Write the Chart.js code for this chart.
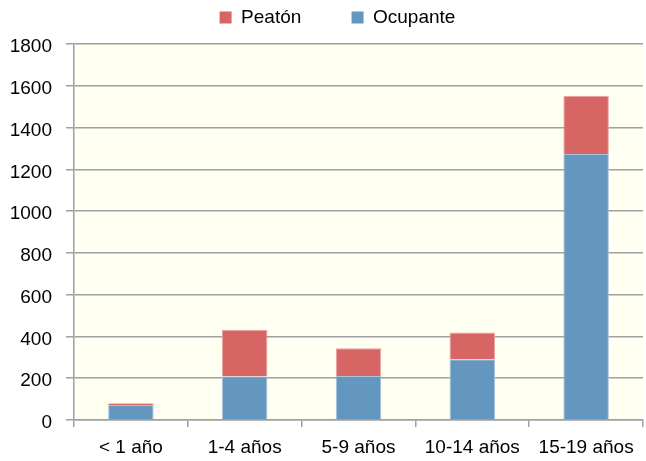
<!DOCTYPE html>
<html>
<head>
<meta charset="utf-8">
<script src="https://cdn.jsdelivr.net/npm/chart.js@4.4.0/dist/chart.umd.min.js"></script>
<style>
  html, body { margin: 0; padding: 0; background: #fff; }
  #wrap { width: 646px; height: 461px; }
</style>
</head>
<body>
<div id="wrap"><canvas id="chart-bars"></canvas></div>
<script>
  // datos
  const categories = ['< 1 año', '1-4 años', '5-9 años', '10-14 años', '15-19 años'];
  const ocupante = [72, 208, 211, 291, 1273];
  const peaton = [8, 224, 133, 128, 279];
  const yTicks = [0, 200, 400, 600, 800, 1000, 1200, 1400, 1600, 1800];

  // fondo amarillo claro del área del gráfico + ajuste de la leyenda
  const plotBackground = {
    id: 'plotBackground',
    afterInit(chart) {
      const legend = chart.legend;
      if (legend) {
        const origFit = legend.fit;
        legend.fit = function () {
          origFit.call(this);
          this.height = 44;
        };
      }
    },
    afterLayout(chart) {
      // la leyenda del original está un poco desplazada a la derecha
      if (chart.legend) {
        chart.legend.left += 16;
        chart.legend.right += 16;
      }
    },
    beforeDraw(chart) {
      const a = chart.chartArea;
      const ctx = chart.ctx;
      ctx.save();
      ctx.fillStyle = '#fffff2';
      ctx.fillRect(a.left, a.top, a.right - a.left, a.bottom - a.top);
      ctx.restore();
    }
  };

  const font = { family: "'Liberation Sans', Arial, sans-serif", size: 19 };

  var ctx = document.getElementById('chart-bars').getContext('2d');
  new Chart(ctx, {
    type: 'bar',
    data: {
      labels: categories,
      datasets: [
        {
          label: 'Ocupante',
          data: ocupante,
          backgroundColor: '#6497c0',
          borderColor: '#a9c4dc',
          borderWidth: 1,
          barPercentage: 0.4,
          categoryPercentage: 1
        },
        {
          label: 'Peatón',
          data: peaton,
          backgroundColor: '#d76563',
          borderColor: '#e9a3a1',
          borderWidth: 1,
          barPercentage: 0.4,
          categoryPercentage: 1
        }
      ]
    },
    options: {
      responsive: true,
      maintainAspectRatio: false,
      animation: false,
      layout: { padding: { left: 0, right: 3, top: 0, bottom: 0 } },
      plugins: {
        legend: {
          reverse: true,
          labels: {
            boxWidth: 12,
            boxHeight: 12,
            padding: 8,
            color: '#000',
            font: font,
            generateLabels(chart) {
              const items = Chart.defaults.plugins.legend.labels.generateLabels(chart);
              items.forEach(item => {
                item.lineWidth = 0;
                if (item.text === 'Peatón') item.text = item.text + '\u00a0'.repeat(8);
              });
              return items;
            }
          }
        },
        tooltip: { enabled: false }
      },
      scales: {
        x: {
          stacked: true,
          offset: true,
          grid: {
            display: true,
            offset: true,
            drawOnChartArea: false,
            drawTicks: true,
            tickLength: 7,
            color: '#a0a0a0',
            lineWidth: 1.5
          },
          border: { color: '#a0a0a0', width: 1.5 },
          ticks: { color: '#000', font: font, padding: 9, maxRotation: 0, autoSkip: false },
          afterFit(scale) { scale.height = 41; }
        },
        y: {
          stacked: true,
          min: 0,
          max: 1800,
          afterBuildTicks(scale) { scale.ticks = yTicks.map(v => ({ value: v })); },
          grid: {
            color: '#a0a0a0',
            lineWidth: 1.5,
            tickLength: 8
          },
          border: { color: '#a0a0a0', width: 1.5 },
          ticks: {
            color: '#000',
            font: font,
            padding: 14,
            labelOffset: 3,
            callback: function (value) { return String(value); }
          },
          afterFit(scale) { scale.width = 74; }
        }
      }
    },
    plugins: [plotBackground]
  });
</script>
</body>
</html>
